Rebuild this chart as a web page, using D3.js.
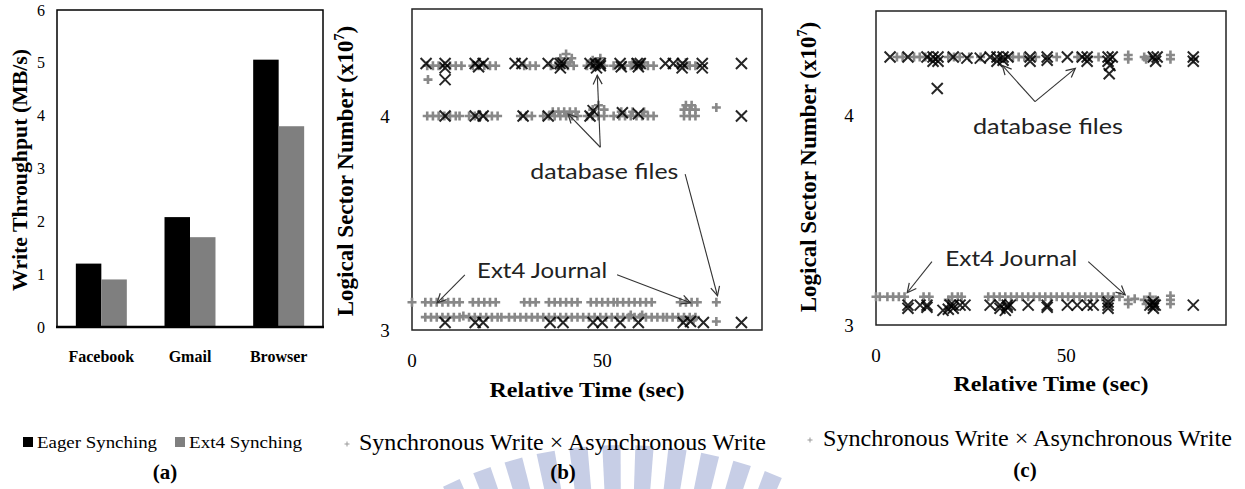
<!DOCTYPE html>
<meta charset="utf-8">
<style>
    body {
        margin: 0;
        background: #fff;
    }

    text {
        font-family: "Liberation Serif", "Times New Roman", serif;
        fill: #000;
    }

    .bold {
        font-weight: bold;
    }

    .note {
        font-family: Lato, "Open Sans", sans-serif;
        fill: #222;
    }

    .frame {
        fill: none;
        stroke: #222;
        stroke-width: 1.5;
    }

    .arrow {
        stroke: #333;
        stroke-width: 1.1;
        fill: none;
    }
</style>

<body>
    <script src="https://d3js.org/d3.v7.min.js"></script>
    <script>
        // (a) write throughput
        var barCategories = ["Facebook", "Gmail", "Browser"];
        var barSeries = ["Eager Synching", "Ext4 Synching"];
        var eagerThroughput = [1.2, 2.08, 5.06];
        var ext4Throughput = [0.9, 1.7, 3.8];
        var throughputTicks = [0, 1, 2, 3, 4, 5, 6];

        // (b), (c) axes
        var timeTicks = [0, 50];
        var sectorTicks = [3, 4];

        // (b) [time sec, sector x10^7]
        var syncB = [
            [4, 4.235], [5.5, 4.235], [7, 4.235], [8.5, 4.235], [10, 4.235], [11.5, 4.235], [13, 4.235],
            [16, 4.235], [17.5, 4.235], [19, 4.235], [20.5, 4.235], [22, 4.235],
            [29.5, 4.235], [31, 4.235], [32.5, 4.235],
            [36.5, 4.235], [38, 4.235], [39.5, 4.235], [41, 4.235], [42.5, 4.235], [39, 4.27], [40.5, 4.29], [42, 4.27], [38.5, 4.25], [41.5, 4.25],
            [46, 4.235], [47.5, 4.235], [49, 4.235], [50.5, 4.235], [47.5, 4.26], [49.5, 4.27],
            [53, 4.235], [54.5, 4.235], [56, 4.235], [57.5, 4.235], [59, 4.235], [60.5, 4.235], [62, 4.235], [63.5, 4.235], [58, 4.25], [61, 4.25],
            [70, 4.235], [71.5, 4.235], [73, 4.235], [74.5, 4.235], [72, 4.25],
            [4.2, 4.17],
            [4, 4.0], [5.5, 4.0], [7, 4.0], [8.5, 4.0], [10, 4.0], [11.5, 4.0], [12.5, 4.0],
            [15, 4.0], [16.5, 4.0], [18, 4.0], [19.5, 4.0], [21, 4.0], [22.5, 4.0],
            [28.5, 4.0], [30, 4.0], [31.5, 4.0],
            [34.5, 4.0], [36, 4.0], [37.5, 4.0], [39, 4.0], [40.5, 4.0], [42, 4.0], [43.5, 4.0], [37, 4.02], [38.5, 4.02], [40, 4.02], [41.5, 4.02], [43, 4.02],
            [46, 4.0], [47.5, 4.0], [49, 4.0], [50.5, 4.0], [47.5, 4.03], [49, 4.05], [50.5, 4.03],
            [53, 4.0], [54.5, 4.0], [56, 4.0], [57.5, 4.0], [59, 4.0], [60.5, 4.0], [62, 4.0], [63.5, 4.0], [55, 4.02], [58, 4.02], [61, 4.02],
            [71.5, 4.0], [73, 4.0], [74.5, 4.0], [71.5, 4.03], [73, 4.03], [74.5, 4.03], [72, 4.05], [73.5, 4.05],
            [80, 4.04],
            [0, 3.13], [3.5, 3.13], [5, 3.13], [6.5, 3.13], [8, 3.13], [9.5, 3.13], [11, 3.13], [12.5, 3.13],
            [16, 3.13], [17.5, 3.13], [19, 3.13], [20.5, 3.13], [22, 3.13],
            [29.5, 3.13], [31, 3.13], [32.5, 3.13],
            [36, 3.13], [37.5, 3.13], [39, 3.13], [40.5, 3.13], [42, 3.13], [43.5, 3.13],
            [47, 3.13], [48.5, 3.13], [50, 3.13], [51.5, 3.13], [53, 3.13], [54, 3.13],
            [55.5, 3.13], [57, 3.13], [58.5, 3.13], [60, 3.13], [61.5, 3.13], [63, 3.13],
            [70.5, 3.13], [72, 3.13], [73.5, 3.13], [75, 3.13],
            [80, 3.13],
            [3.5, 3.06], [5, 3.06], [6.5, 3.06], [8, 3.06], [9.5, 3.06], [11, 3.06], [12.5, 3.06], [13.5, 3.065],
            [15, 3.06], [16.5, 3.06], [18, 3.06], [19.5, 3.06], [21, 3.06], [22.5, 3.06],
            [23.5, 3.06], [25.5, 3.06],
            [27, 3.06], [28.5, 3.06], [30, 3.06], [31.5, 3.06], [33, 3.06], [34.5, 3.06], [36, 3.06], [37.5, 3.06], [39, 3.06],
            [40.5, 3.06], [42, 3.06], [43.5, 3.06], [45, 3.06], [46.5, 3.06], [48, 3.06], [49.5, 3.06], [51, 3.06], [52.5, 3.06], [54, 3.06],
            [55.5, 3.06], [57, 3.06], [58.5, 3.06], [60, 3.06], [61.5, 3.06], [63, 3.06], [64.5, 3.06], [66, 3.06], [57.5, 3.07], [60.5, 3.07],
            [67, 3.06], [68.5, 3.06],
            [70, 3.06], [71.5, 3.06], [73, 3.06], [74.5, 3.06], [71, 3.045], [72.5, 3.045], [74, 3.05],
            [80, 3.04]
        ];
        var asyncB = [
            [3.7, 4.245], [8.7, 4.245], [16.6, 4.245], [18.7, 4.245], [27.1, 4.245], [28.9, 4.245], [35.8, 4.245], [38.9, 4.245], [39.7, 4.245],
            [46.8, 4.245], [48.2, 4.245], [49.5, 4.245], [54.7, 4.245], [59.2, 4.245], [60, 4.245], [66.6, 4.245], [68.7, 4.245], [71.1, 4.245],
            [76.3, 4.245], [86.6, 4.245],
            [8.7, 4.225], [17.5, 4.23], [39, 4.225], [48.5, 4.225], [49.5, 4.235], [55, 4.23], [59.5, 4.23], [71, 4.225], [76.3, 4.225],
            [8.7, 4.17],
            [8.7, 4.0], [16.6, 4.0], [18.7, 4.0], [29.2, 4.0], [35.8, 4.0], [46.8, 4.0], [47.6, 4.025], [55.3, 4.015], [59.5, 4.01], [86.6, 4.0],
            [8.7, 3.035], [16.6, 3.035], [18.7, 3.035], [36.3, 3.035], [39.7, 3.035], [47.6, 3.035], [50, 3.035], [54.7, 3.035], [59.5, 3.035],
            [71.3, 3.035], [73.2, 3.04], [76.6, 3.035], [86.6, 3.035]
        ];

        // (c)
        var syncC = [
            [5.5, 4.28], [7, 4.28], [10, 4.28], [11.5, 4.28], [13, 4.28],
            [19, 4.28], [20.5, 4.28], [22, 4.28], [24.5, 4.28], [27.5, 4.28],
            [36, 4.28], [37.5, 4.28], [39, 4.28], [42, 4.28], [47.5, 4.28],
            [53, 4.28], [56, 4.28], [58.5, 4.28],
            [66.3, 4.27], [66.3, 4.29], [70.5, 4.28], [72, 4.28], [71, 4.27],
            [77.4, 4.27], [77.4, 4.29], [83.4, 4.27],
            [0, 3.135], [1, 3.135], [3, 3.135], [4.5, 3.135], [6, 3.135], [7.5, 3.135],
            [12.5, 3.135], [14, 3.135], [20, 3.135], [21.5, 3.135], [22.5, 3.135], [19, 3.12],
            [29.5, 3.135], [31, 3.135], [32.5, 3.135], [34, 3.135], [35.5, 3.135], [37, 3.135], [38.5, 3.135], [40, 3.135],
            [41.5, 3.135], [43, 3.135], [44.5, 3.135], [46, 3.135], [47.5, 3.135], [49, 3.135], [50.5, 3.135], [52, 3.135],
            [53.5, 3.135], [55, 3.135], [56.5, 3.135], [58, 3.135], [59.5, 3.135], [61, 3.135], [62.5, 3.135], [64, 3.135],
            [66.3, 3.12], [66.3, 3.1], [68, 3.125],
            [70.5, 3.12], [72, 3.135], [73.5, 3.12], [71, 3.1], [72.5, 3.1],
            [77.4, 3.14], [77.4, 3.12], [77.4, 3.1]
        ];
        var asyncC = [
            [3.7, 4.28], [8.4, 4.28], [13.4, 4.28], [15, 4.28], [16.3, 4.28], [20.3, 4.28], [23.9, 4.275], [27.4, 4.275], [30, 4.28],
            [31.8, 4.28], [33.4, 4.28], [34.7, 4.28], [40.5, 4.28], [45, 4.28], [50.3, 4.28], [54.2, 4.28], [55.5, 4.28], [61, 4.28],
            [62.1, 4.28], [72.9, 4.28], [73.9, 4.28], [83.4, 4.28],
            [15, 4.26], [16.3, 4.26], [31.8, 4.26], [33.4, 4.265], [40.5, 4.26], [45, 4.265], [55.5, 4.26], [61, 4.26], [73.5, 4.26],
            [83.4, 4.26], [61.5, 4.24], [61.3, 4.2],
            [16.1, 4.13],
            [8.4, 3.095], [11.6, 3.095], [13.4, 3.095], [19.5, 3.095], [20.3, 3.095], [22.1, 3.095], [23.4, 3.095], [30, 3.095],
            [32.6, 3.095], [34.5, 3.095], [35.3, 3.095], [40, 3.095], [45, 3.095], [50.3, 3.095], [52.9, 3.095], [55.5, 3.095],
            [57.1, 3.095], [61, 3.095], [72, 3.095], [72.9, 3.095], [73.4, 3.095], [83.4, 3.095],
            [8.4, 3.08], [13.4, 3.085], [20.3, 3.08], [32.6, 3.08], [34.5, 3.085], [45, 3.085], [61, 3.08], [72.9, 3.08],
            [61, 3.11], [72.9, 3.11], [17.6, 3.07], [34, 3.07], [19, 3.075]
        ];

        // annotations, in data units: [x1, y1, x2, y2]
        var arrowsB = [
            [49.5, 3.854, 48.7, 4.19],
            [49.5, 3.854, 41, 4.01],
            [71.8, 3.728, 80.3, 3.16],
            [13.9, 3.258, 6.6, 3.127],
            [53.9, 3.258, 73.2, 3.127]
        ];
        var arrowsC = [
            [41.8, 4.067, 33.2, 4.24],
            [41.8, 4.067, 52.4, 4.226],
            [14.7, 3.303, 8.2, 3.154],
            [55.8, 3.303, 65.5, 3.144]
        ];
        var labelsB = [
            { text: "database files", t: 31.1, s: 3.704, len: 148 },
            { text: "Ext4 Journal", t: 17.1, s: 3.244, len: 130 }
        ];
        var labelsC = [
            { text: "database files", t: 25.5, s: 3.913, len: 150 },
            { text: "Ext4 Journal", t: 18.2, s: 3.284, len: 132 }
        ];

        var W = 1245, H = 489;

        var svg = d3.select("body").append("svg")
            .attr("width", W)
            .attr("height", H);

        svg.append("rect").attr("width", W).attr("height", H).attr("fill", "#fff");

        // watermark rays at the bottom
        var wm = svg.append("g").attr("fill", "#c7cee6");
        d3.range(-25, 26, 4.7).forEach(function(a) {
            var r0 = 300, r1 = 404, cx = 622, cy = 849;
            var a0 = (a - 1.3) * Math.PI / 180, a1 = (a + 1.3) * Math.PI / 180;
            var p = [
                [cx + r1 * Math.sin(a0), cy - r1 * Math.cos(a0)],
                [cx + r1 * Math.sin(a1), cy - r1 * Math.cos(a1)],
                [cx + r0 * Math.sin(a1), cy - r0 * Math.cos(a1)],
                [cx + r0 * Math.sin(a0), cy - r0 * Math.cos(a0)]
            ];
            wm.append("path").attr("d", "M" + p.join("L") + "Z");
        });

        svg.append("defs").append("marker")
            .attr("id", "head")
            .attr("viewBox", "-10 -6 12 12")
            .attr("refX", 0).attr("refY", 0)
            .attr("markerWidth", 12).attr("markerHeight", 12)
            .attr("markerUnits", "userSpaceOnUse")
            .attr("orient", "auto")
            .append("path")
            .attr("d", "M-9,-4.5L0,0L-9,4.5")
            .attr("fill", "none")
            .attr("stroke", "#333")
            .attr("stroke-width", 1.2);

        // ---------- (a) ----------
        var ax = d3.scaleBand().domain(barCategories).range([57, 323])
            .paddingInner(0.425).paddingOuter(0.2125);
        var ay = d3.scaleLinear().domain([0, 6]).range([327, 10]);
        var sub = d3.scaleBand().domain(barSeries).range([0, ax.bandwidth()]);
        var barColor = d3.scaleOrdinal().domain(barSeries).range(["#000", "#7f7f7f"]);

        var ga = svg.append("g");
        ga.append("rect").attr("class", "frame")
            .attr("x", 57).attr("y", ay(6))
            .attr("width", 266).attr("height", ay(0) - ay(6))
            .style("stroke", "#000");

        var barRows = [];
        barCategories.forEach(function(c, i) {
            barRows.push({ cat: c, series: barSeries[0], v: eagerThroughput[i] });
            barRows.push({ cat: c, series: barSeries[1], v: ext4Throughput[i] });
        });
        ga.selectAll(".bar").data(barRows).enter().append("rect")
            .attr("class", "bar")
            .attr("x", function(d) { return ax(d.cat) + sub(d.series); })
            .attr("y", function(d) { return ay(d.v); })
            .attr("width", sub.bandwidth())
            .attr("height", function(d) { return ay(0) - ay(d.v); })
            .style("fill", function(d) { return barColor(d.series); });

        ga.append("line").attr("x1", 56).attr("x2", 324)
            .attr("y1", ay(0)).attr("y2", ay(0))
            .attr("stroke", "#000").attr("stroke-width", 2.5);

        ga.selectAll(".ytick").data(throughputTicks).enter().append("text")
            .attr("x", 45).attr("y", function(d) { return ay(d); })
            .attr("dy", "0.35em")
            .attr("text-anchor", "end")
            .style("font-size", "16px")
            .text(function(d) { return d; });

        ga.selectAll(".xtick").data(barCategories).enter().append("text")
            .attr("class", "bold")
            .attr("x", function(d) { return ax(d) + ax.bandwidth() / 2; })
            .attr("y", 362)
            .attr("text-anchor", "middle")
            .style("font-size", "16px")
            .text(function(d) { return d; });

        ga.append("text").attr("class", "bold")
            .attr("transform", "translate(27,170) rotate(-90)")
            .attr("text-anchor", "middle")
            .attr("textLength", 242).attr("lengthAdjust", "spacingAndGlyphs")
            .style("font-size", "22px")
            .text("Write  Throughput  (MB/s)");

        // legend (a)
        var legA = [{ name: barSeries[0], x: 23, tx: 37, len: 120 }, { name: barSeries[1], x: 175, tx: 189, len: 113 }];
        legA.forEach(function(d) {
            svg.append("rect").attr("x", d.x).attr("y", 437).attr("width", 10).attr("height", 10)
                .style("fill", barColor(d.name));
            svg.append("text").attr("x", d.tx).attr("y", 448)
                .attr("textLength", d.len).attr("lengthAdjust", "spacingAndGlyphs")
                .style("font-size", "17px").text(d.name);
        });

        // ---------- scatter panels ----------
        var plusPath = "M-4.5,0H4.5M0,-4.5V4.5";
        var timesPath = "M-5.5,-5.5L5.5,5.5M-5.5,5.5L5.5,-5.5";

        function scatter(cfg) {
            var x = d3.scaleLinear().domain([0, 92]).range([cfg.left, cfg.right]);
            var y = d3.scaleLinear().domain([3, 4.5]).range([cfg.bottom, cfg.top]);
            var g = svg.append("g");

            g.append("rect").attr("class", "frame")
                .attr("x", cfg.left).attr("y", cfg.top)
                .attr("width", cfg.right - cfg.left).attr("height", cfg.bottom - cfg.top);

            g.selectAll(".sync").data(cfg.sync).enter().append("path")
                .attr("class", "sync")
                .attr("d", plusPath)
                .attr("transform", function(d) { return "translate(" + x(d[0]) + "," + y(d[1]) + ")"; })
                .attr("stroke", "#888").attr("stroke-width", 2.6);

            g.selectAll(".async").data(cfg.async).enter().append("path")
                .attr("class", "async")
                .attr("d", timesPath)
                .attr("transform", function(d) { return "translate(" + x(d[0]) + "," + y(d[1]) + ")"; })
                .attr("stroke", "#000").attr("stroke-width", 2).attr("stroke-opacity", 0.85);

            g.selectAll(".arrow").data(cfg.arrows).enter().append("line")
                .attr("class", "arrow")
                .attr("x1", function(d) { return x(d[0]); })
                .attr("y1", function(d) { return y(d[1]); })
                .attr("x2", function(d) { return x(d[2]); })
                .attr("y2", function(d) { return y(d[3]); })
                .attr("marker-end", "url(#head)");

            g.selectAll(".note").data(cfg.labels).enter().append("text")
                .attr("class", "note")
                .attr("x", function(d) { return x(d.t); })
                .attr("y", function(d) { return y(d.s); })
                .attr("textLength", function(d) { return d.len; })
                .attr("lengthAdjust", "spacingAndGlyphs")
                .style("font-size", "22px")
                .text(function(d) { return d.text; });

            g.selectAll(".ytick").data(sectorTicks).enter().append("text")
                .attr("x", cfg.left - 27).attr("y", function(d) { return y(d); })
                .attr("dy", "0.35em")
                .attr("text-anchor", "middle")
                .style("font-size", "19px")
                .text(function(d) { return d; });

            g.selectAll(".xtick").data(timeTicks).enter().append("text")
                .attr("x", function(d) { return x(d); }).attr("y", cfg.bottom + 30)
                .attr("dy", "0.35em")
                .attr("text-anchor", "middle")
                .style("font-size", "19px")
                .text(function(d) { return d; });

            g.append("text").attr("class", "bold")
                .attr("x", cfg.xLabel[0]).attr("y", cfg.xLabel[1])
                .attr("text-anchor", "middle")
                .attr("textLength", 195).attr("lengthAdjust", "spacingAndGlyphs")
                .style("font-size", "21px")
                .text("Relative Time (sec)");

            var yl = g.append("text").attr("class", "bold")
                .attr("transform", "translate(" + cfg.yLabel[0] + "," + cfg.yLabel[1] + ") rotate(-90)")
                .attr("text-anchor", "middle")
                .style("font-size", "23px");
            yl.append("tspan").text("Logical Sector Number (x10");
            yl.append("tspan").attr("dy", -9).style("font-size", "14px").text("7");
            yl.append("tspan").attr("dy", 9).text(")");

            // legend
            svg.append("path").attr("d", "M-2.5,0H2.5M0,-2.5V2.5")
                .attr("transform", "translate(" + cfg.legend[0] + "," + (cfg.legend[2] - 6) + ")")
                .attr("stroke", "#999").attr("stroke-width", 1);
            svg.append("text")
                .attr("x", cfg.legend[1]).attr("y", cfg.legend[2])
                .attr("textLength", cfg.legend[3]).attr("lengthAdjust", "spacingAndGlyphs")
                .style("font-size", "23px")
                .text("Synchronous Write \u00d7 Asynchronous Write");
        }

        scatter({
            left: 412, right: 762, top: 9, bottom: 330,
            sync: syncB, async: asyncB, arrows: arrowsB, labels: labelsB,
            xLabel: [587, 397], yLabel: [353, 171],
            legend: [347, 359, 450, 407]
        });
        scatter({
            left: 876, right: 1226, top: 11, bottom: 325,
            sync: syncC, async: asyncC, arrows: arrowsC, labels: labelsC,
            xLabel: [1051, 391], yLabel: [816, 167],
            legend: [810, 823, 446, 409]
        });

        // panel captions
        [["(a)", 165], ["(b)", 563], ["(c)", 1025]].forEach(function(d) {
            svg.append("text").attr("class", "bold")
                .attr("x", d[1]).attr("y", d[0] == "(c)" ? 477 : 479)
                .attr("text-anchor", "middle")
                .style("font-size", "21px")
                .text(d[0]);
        });
    </script>
</body>
